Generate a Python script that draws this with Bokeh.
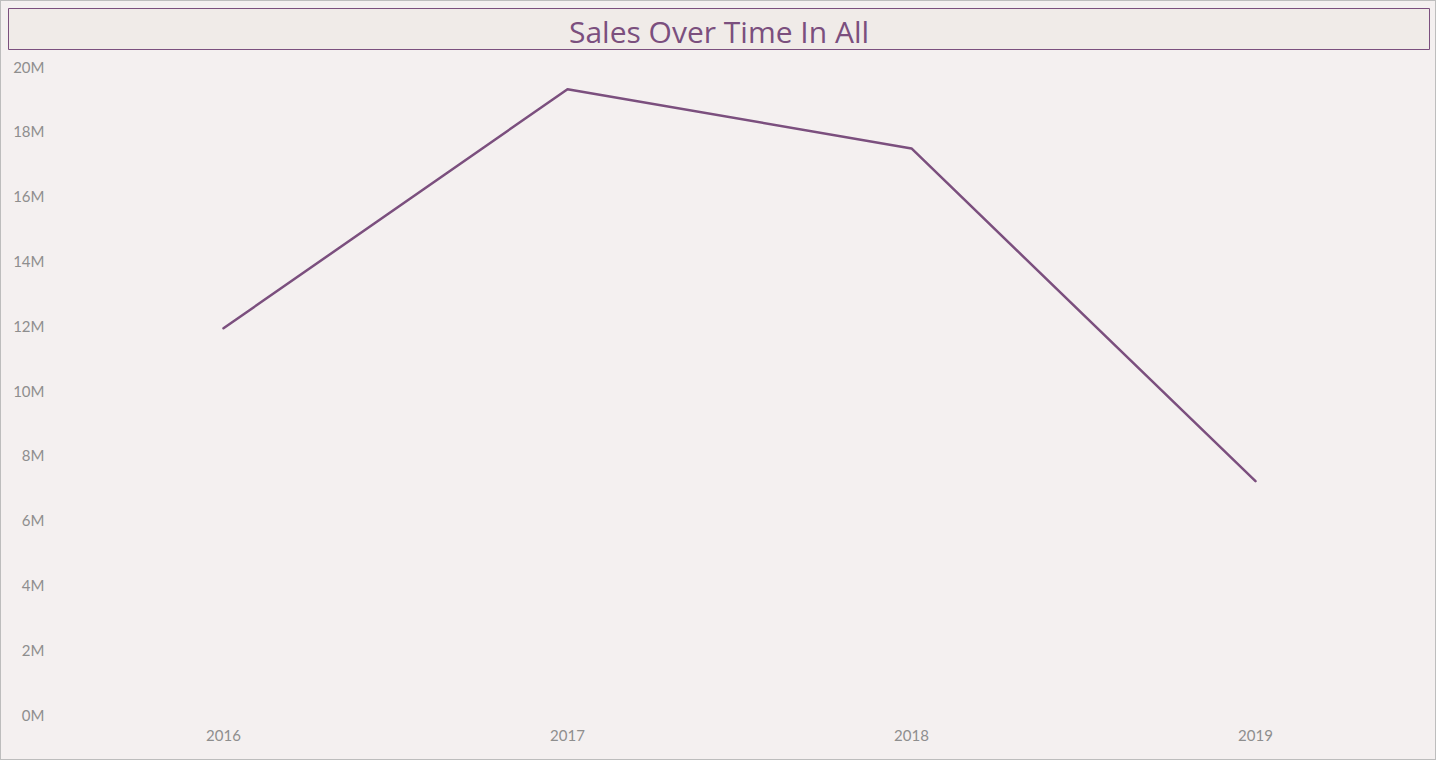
from bokeh.plotting import figure
from bokeh.layouts import column
from bokeh.models import FixedTicker, Label, Range1d, FactorRange
from bokeh.embed import file_html
from bokeh.resources import INLINE

# ---- data ----
years = ["2016", "2017", "2018", "2019"]
sales = [11.92e6, 19.30e6, 17.47e6, 7.20e6]
y_ticks = [0, 2e6, 4e6, 6e6, 8e6, 10e6, 12e6, 14e6, 16e6, 18e6, 20e6]
y_tick_labels = ["0M", "2M", "4M", "6M", "8M", "10M", "12M", "14M", "16M", "18M", "20M"]
title_text = "Sales Over Time In All"

BG = "#F4F0F0"
TITLE_BG = "#F0EBE8"
PURPLE = "#7B4F7E"
GRAY = "#8E8E8E"

W = 1434

# ---- title strip ----
t = figure(width=W, height=54, x_range=Range1d(0, 1), y_range=Range1d(0, 1),
           x_axis_type=None, y_axis_type=None,
           output_backend="svg", toolbar_location=None,
           min_border_left=7, min_border_right=6, min_border_top=7, min_border_bottom=6)
t.frame_align = False
t.grid.visible = False
t.background_fill_color = TITLE_BG
t.border_fill_color = BG
t.outline_line_color = PURPLE
t.outline_line_width = 1
t.add_layout(Label(x=0.5, y=0.44, text=title_text, text_align="center", text_baseline="middle",
                   text_font="Open Sans", text_font_size="30px", text_color=PURPLE))

# ---- main chart ----
p = figure(width=W, height=704, x_range=FactorRange(*years), y_range=Range1d(0, 20e6),
           output_backend="svg", toolbar_location=None,
           min_border_left=50, min_border_right=8, min_border_top=11, min_border_bottom=45)
p.frame_align = False
p.background_fill_color = BG
p.border_fill_color = BG
p.outline_line_color = None
p.xgrid.grid_line_color = None
p.ygrid.grid_line_color = None
p.x_range.range_padding = 0

p.line(x=years, y=sales, line_color=PURPLE, line_width=2.5, line_join="round", line_cap="round")

p.yaxis.ticker = FixedTicker(ticks=y_ticks)
p.yaxis.major_label_overrides = {tk: lb for tk, lb in zip(y_ticks, y_tick_labels)}
for ax in (p.xaxis[0], p.yaxis[0]):
    ax.axis_line_color = None
    ax.major_tick_line_color = None
    ax.minor_tick_line_color = None
    ax.major_tick_out = 0
    ax.major_tick_in = 0
    ax.major_label_text_color = GRAY
    ax.major_label_text_font = "Lato"
    ax.major_label_text_font_size = "15px"
p.yaxis.major_label_standoff = 7
p.xaxis.major_label_standoff = 15

layout = column(t, p, spacing=0,
                styles={"border": "1px solid #BDBDBD", "background-color": BG})

open("out.html", "w").write(file_html(layout, INLINE))
